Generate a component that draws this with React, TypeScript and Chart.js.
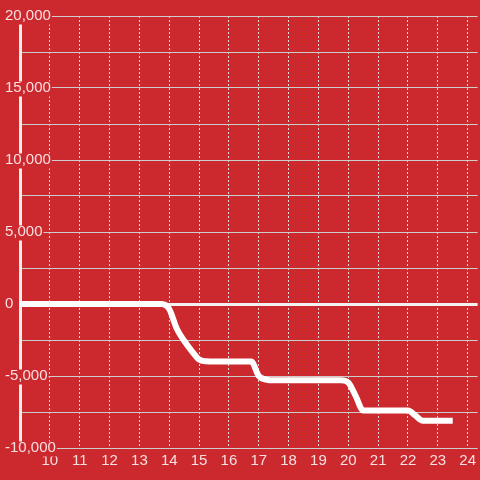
import React, { useEffect, useRef } from "react";
import { Chart, registerables } from "chart.js";

Chart.register(...registerables);

const X_VALUES = [9, 10, 11, 12, 13, 13.75, 14, 14.25, 14.5, 14.75, 15, 15.25, 15.5, 16, 16.5, 16.75, 17, 17.25, 17.5, 18, 19, 19.75, 20, 20.25, 20.5, 21, 22, 22.25, 22.5, 23, 23.5];
const Y_VALUES = [0, 0, 0, 0, 0, 0, -350, -1700, -2550, -3250, -3850, -3980, -4000, -4000, -4000, -4000, -5000, -5250, -5300, -5300, -5300, -5300, -5450, -6400, -7400, -7400, -7400, -7750, -8100, -8100, -8100];

const X_TICKS = [10, 11, 12, 13, 14, 15, 16, 17, 18, 19, 20, 21, 22, 23, 24];
const X_LABELS = ["10", "11", "12", "13", "14", "15", "16", "17", "18", "19", "20", "21", "22", "23", "24"];
const Y_TICKS = [-10000, -7500, -5000, -2500, 0, 2500, 5000, 7500, 10000, 12500, 15000, 17500, 20000];
const Y_LABELS = ["-10,000", "", "-5,000", "", "0", "", "5,000", "", "10,000", "", "15,000", "", "20,000"];

const BG = "rgb(204, 41, 47)";
const LABEL_COLOR = "rgba(255,255,255,0.85)";
const FONT = { family: "'Liberation Sans', Arial, sans-serif", size: 15, lineHeight: 1 };

export default function App() {
  const ref = useRef<HTMLCanvasElement | null>(null);
  useEffect(() => {
    if (!ref.current) return;
    const chart = new Chart(ref.current, {
      type: "line",
      data: {
        datasets: [
          {
            data: X_VALUES.map((x, i) => ({ x, y: Y_VALUES[i] })),
            borderColor: "#ffffff",
            borderWidth: 6,
            pointRadius: 0,
            fill: false,
            cubicInterpolationMode: "monotone",
            borderCapStyle: "butt",
          },
        ],
      },
      options: {
        animation: false,
        responsive: true,
        maintainAspectRatio: false,
        layout: { padding: { left: 0, top: 16, right: 0, bottom: 6 } },
        plugins: { legend: { display: false }, tooltip: { enabled: false } },
        scales: {
          x: {
            type: "linear",
            min: 9,
            max: 24.333,
            afterBuildTicks: (scale: any) => {
              scale.ticks = X_TICKS.map((v) => ({ value: v }));
            },
            ticks: {
              color: LABEL_COLOR,
              font: { ...FONT, lineHeight: 1.2 },
              padding: 4,
              maxRotation: 0,
              autoSkip: false,
              callback: (_v: any, i: number) => X_LABELS[i],
            },
            grid: {
              color: "rgba(235,235,235,0.9)",
              lineWidth: 1,
              drawTicks: false,
              borderDash: [2, 2],
            } as any,
            border: { display: false, dash: [2, 2] },
          },
          y: {
            type: "linear",
            min: -10000,
            max: 20000,
            afterBuildTicks: (scale: any) => {
              scale.ticks = Y_TICKS.map((v) => ({ value: v }));
            },
            ticks: {
              color: LABEL_COLOR,
              font: FONT,
              mirror: true,
              padding: -15,
              crossAlign: "near",
              autoSkip: false,
              showLabelBackdrop: true,
              backdropColor: BG,
              backdropPadding: { left: 1, right: 1, top: -1, bottom: 1 },
              callback: (_v: any, i: number) => Y_LABELS[i],
            },
            grid: {
              color: (ctx: any) => (ctx.tick && ctx.tick.value === 0 ? "#f2f2f2" : "rgb(205,205,205)"),
              lineWidth: (ctx: any) => (ctx.tick && ctx.tick.value === 0 ? 3 : 1),
              tickColor: "rgba(0,0,0,0)",
              tickLength: 50,
              drawTicks: true,
            },
            border: { display: true, color: "#eeeeee", width: 3 },
          },
        },
      } as any,
    });
    return () => chart.destroy();
  }, []);
  return (
    <div style={{ position: "absolute", left: 0, top: 0, width: 480, height: 480, background: BG }}>
      <canvas ref={ref} />
    </div>
  );
}
